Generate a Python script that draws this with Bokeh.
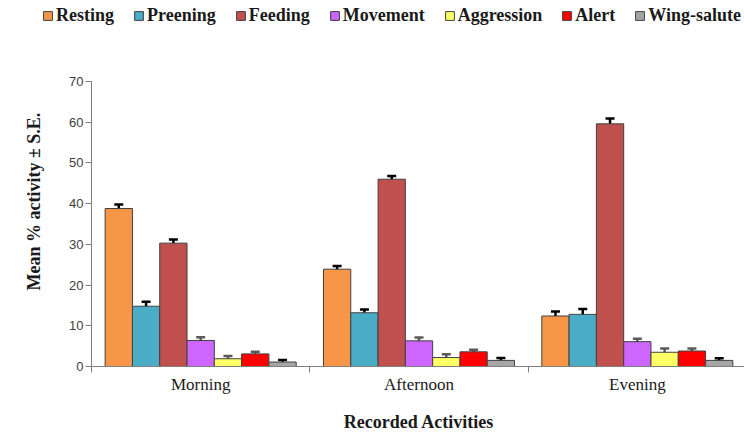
from bokeh.plotting import figure
from bokeh.models import (FactorRange, Range1d, LinearAxis, CategoricalAxis, FixedTicker,
                          Whisker, TeeHead, ColumnDataSource, Legend, LegendItem, Title)
from bokeh.transform import dodge
from bokeh.embed import file_html
from bokeh.resources import INLINE

# ---- data ----
groups = ["Morning", "Afternoon", "Evening"]
series = ["Resting", "Preening", "Feeding", "Movement", "Aggression", "Alert", "Wing-salute"]
resting = [38.8, 23.9, 12.4]
resting_se = [1.0, 0.8, 1.1]
preening = [14.8, 13.2, 12.8]
preening_se = [1.1, 0.8, 1.3]
feeding = [30.3, 46.0, 59.6]
feeding_se = [0.9, 0.8, 1.3]
movement = [6.4, 6.3, 6.1]
movement_se = [0.8, 0.8, 0.7]
aggression = [1.9, 2.2, 3.5]
aggression_se = [0.7, 0.8, 0.9]
alert = [3.1, 3.6, 3.8]
alert_se = [0.5, 0.5, 0.6]
wing_salute = [1.1, 1.5, 1.5]
wing_salute_se = [0.5, 0.6, 0.5]
y_ticks = [0, 10, 20, 30, 40, 50, 60, 70]
group_edges = [0, 1, 2, 3]

values = [resting, preening, feeding, movement, aggression, alert, wing_salute]
errors = [resting_se, preening_se, feeding_se, movement_se, aggression_se, alert_se, wing_salute_se]
colors = ["#F79646", "#4BACC6", "#C0504D", "#CC66FF", "#FFFF66", "#FF0000", "#A6A6A6"]
err_colors = ["#000000", "#000000", "#000000", "#5A5A5A", "#5A5A5A", "#5A5A5A", "#000000"]

bw = 0.125
sources = []
for vals, errs in zip(values, errors):
    sources.append(ColumnDataSource(dict(group=groups, val=vals,
                                         lo=[v - e for v, e in zip(vals, errs)],
                                         hi=[v + e for v, e in zip(vals, errs)])))

# ---- legend strip (separate root on top) ----
lg = figure(width=744, height=35, x_range=FactorRange(*groups, range_padding=0),
            y_range=Range1d(100, 101), output_backend="svg", toolbar_location=None,
            min_border=0, min_border_left=0, min_border_right=0, min_border_top=0,
            min_border_bottom=0, x_axis_location=None, y_axis_location=None)
lg.grid.visible = False
lg.outline_line_color = None
lg_items = []
for i, name in enumerate(series):
    off = (i - 3) * bw
    r = lg.vbar(x=dodge("group", off, range=lg.x_range), top="val", width=bw,
                source=sources[i], fill_color=colors[i], line_color="#404040", line_width=1)
    lg_items.append(LegendItem(label=name, renderers=[r]))
legend = Legend(items=lg_items, orientation="horizontal", location=(42, 9),
                label_text_font="Liberation Serif", label_text_font_style="bold",
                label_text_font_size="18px", label_text_color="#1a1a1a",
                glyph_width=11, glyph_height=11, label_standoff=3, spacing=19,
                padding=0, margin=0, border_line_color=None, background_fill_alpha=0)
lg.add_layout(legend)

# ---- main chart ----
p = figure(frame_width=655, frame_height=285, x_range=FactorRange(*groups, range_padding=0),
           y_range=Range1d(0, 70), output_backend="svg", toolbar_location=None,
           x_axis_location=None, min_border_left=89, min_border_right=0,
           min_border_top=46, min_border_bottom=20)
p.grid.visible = False
p.outline_line_color = None

offsets = []
for i, name in enumerate(series):
    off = (i - 3) * bw
    offsets.append(off)
    p.vbar(x=dodge("group", off, range=p.x_range), top="val", width=bw, source=sources[i],
           fill_color=colors[i], line_color="#404040", line_width=1)

for i, off in enumerate(offsets):
    w = Whisker(base=dodge("group", off, range=p.x_range), lower="lo", upper="hi",
                source=sources[i], line_color=err_colors[i], line_width=2.5,
                upper_head=TeeHead(size=9, line_color=err_colors[i], line_width=2.5),
                lower_head=TeeHead(size=9, line_color=err_colors[i], line_width=2.5))
    p.add_layout(w)

# y axis
ya = p.yaxis[0]
ya.ticker = FixedTicker(ticks=y_ticks)
ya.axis_line_color = "#7F7F7F"
ya.major_tick_line_color = "#7F7F7F"
ya.major_tick_out = 6
ya.major_tick_in = 0
ya.minor_tick_line_color = None
ya.major_label_standoff = 2
ya.major_label_text_font = "Liberation Sans"
ya.major_label_text_font_size = "13px"
ya.major_label_text_color = "#404040"

# x boundary tick axis (ticks between the groups)
ea = LinearAxis(ticker=FixedTicker(ticks=group_edges),
                major_label_text_font_size="0px", major_label_standoff=0,
                major_label_overrides={0: "", 1: "", 2: "", 3: ""},
                axis_line_color="#7F7F7F", major_tick_line_color="#7F7F7F",
                major_tick_out=6, major_tick_in=0, minor_tick_line_color=None)
p.add_layout(ea, "below")

ca = CategoricalAxis(axis_line_color=None, major_tick_line_color=None,
                     major_label_standoff=-4, major_label_text_font="Liberation Serif",
                     major_label_text_font_size="17px", major_label_text_color="#1a1a1a",
                     axis_label="Recorded Activities", axis_label_standoff=15,
                     axis_label_text_font="Liberation Serif", axis_label_text_font_style="bold",
                     axis_label_text_font_size="18px", axis_label_text_color="#1a1a1a")
p.add_layout(ca, "below")

ytitle = Title(text="Mean % activity ± S.E.", align="left", offset=76, standoff=44,
               vertical_align="middle",
               text_font="Liberation Serif", text_font_style="bold",
               text_font_size="18px", text_color="#1a1a1a")
p.add_layout(ytitle, "left")

open("out.html", "w").write(file_html([lg, p], INLINE))
